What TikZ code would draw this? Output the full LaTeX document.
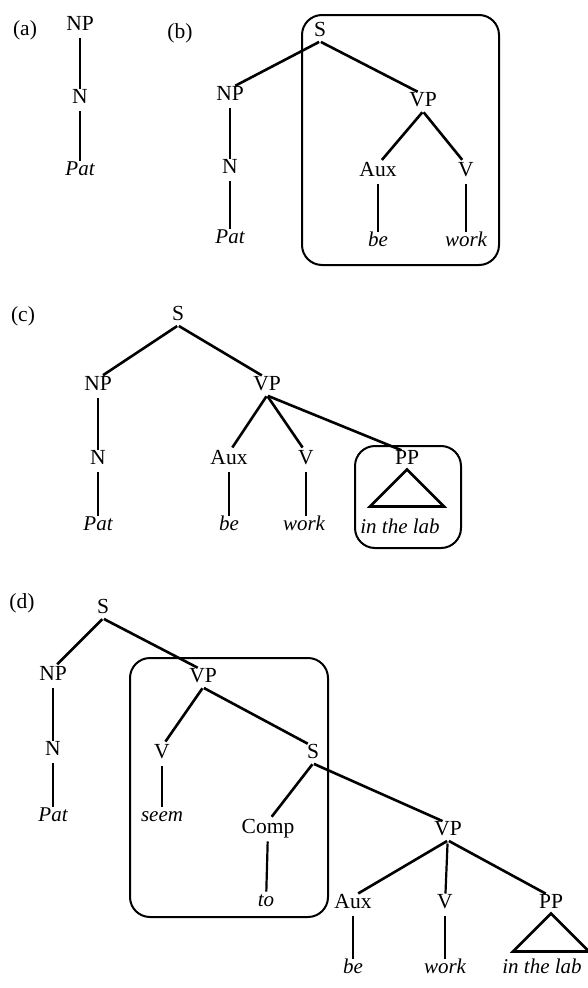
\documentclass[tikz,border=0pt]{standalone}
\usepackage{fontspec}
\setmainfont{Liberation Serif}

\begin{document}
\begin{tikzpicture}[
  x=1pt,y=-1pt,
  cat/.style={inner sep=4.5pt,text height=1.5ex,text depth=0.15ex},
  word/.style={cat,font=\fontsize{21}{24}\selectfont\itshape},
  branch/.style={line width=2.6pt,shorten <=1pt,shorten >=6pt},
  stem/.style={line width=2.2pt,shorten <=3pt,shorten >=3pt},
  frame/.style={line width=2pt,rounded corners=20pt},
  every node/.append style={font=\fontsize{21.5}{24}\selectfont}
]
  \useasboundingbox (0,0) rectangle (587,988);

  % (a)
  \node (la) at (25,30) {(a)};
  \node[cat] (a-np) at (80,27) {NP};
  \node[cat] (a-n) at (80,100) {N};
  \node[word] (a-pat) at (80,172) {Pat};
  \draw[stem] (a-np) -- (a-n);
  \draw[stem] (a-n) -- (a-pat);

  % (b)
  \node (lb) at (180,33) {(b)};
  \node[cat] (b-s) at (320,33) {S};
  \node[cat] (b-np) at (230,97) {NP};
  \node[cat] (b-n) at (230,170) {N};
  \node[word] (b-pat) at (230,240) {Pat};
  \node[cat] (b-vp) at (423,103) {VP};
  \node[cat] (b-aux) at (378,173) {Aux};
  \node[cat] (b-v) at (466,173) {V};
  \node[word] (b-be) at (378,243) {be};
  \node[word] (b-work) at (466,243) {work};
  \draw[branch] (b-s.south) -- (b-np.north);
  \draw[branch] (b-s.south) -- (b-vp.north);
  \draw[branch] (b-vp.south) -- (b-aux.north);
  \draw[branch] (b-vp.south) -- (b-v.north);
  \draw[stem] (b-np) -- (b-n);
  \draw[stem] (b-n) -- (b-pat);
  \draw[stem] (b-aux) -- (b-be);
  \draw[stem] (b-v) -- (b-work);
  \draw[frame] (302,15) rectangle (499,265);

  % (c)
  \node (lc) at (23,316) {(c)};
  \node[cat] (c-s) at (178,317) {S};
  \node[cat] (c-np) at (98,387) {NP};
  \node[cat] (c-n) at (98,461) {N};
  \node[word] (c-pat) at (98,527) {Pat};
  \node[cat] (c-vp) at (267,387) {VP};
  \node[cat] (c-aux) at (229,461) {Aux};
  \node[cat] (c-v) at (306,461) {V};
  \node[cat] (c-pp) at (407,461) {PP};
  \node[word] (c-be) at (229,527) {be};
  \node[word] (c-work) at (304,527) {work};
  \node[word] (c-lab) at (400,530) {in the lab};
  \draw[branch] (c-s.south) -- (c-np.north);
  \draw[branch] (c-s.south) -- (c-vp.north);
  \draw[branch] (c-vp.south) -- (c-aux.north);
  \draw[branch] (c-vp.south) -- (c-v.north);
  \draw[branch] (c-vp.south) -- (c-pp.north);
  \draw[stem] (c-np) -- (c-n);
  \draw[stem] (c-n) -- (c-pat);
  \draw[stem] (c-aux) -- (c-be);
  \draw[stem] (c-v) -- (c-v |- c-work.north);
  \draw[line width=2.6pt] (c-pp.south) -- ++(-37,37) -- ++(74,0) -- cycle;
  \draw[frame] (355,446) rectangle (461,548);

  % (d)
  \node (ld) at (22,603) {(d)};
  \node[cat] (d-s) at (103,610) {S};
  \node[cat] (d-np) at (53,677) {NP};
  \node[cat] (d-n) at (53,752) {N};
  \node[word] (d-pat) at (53,818) {Pat};
  \node[cat] (d-vp) at (203,679) {VP};
  \node[cat] (d-v) at (162,755) {V};
  \node[word] (d-seem) at (162,818) {seem};
  \node[cat] (d-s2) at (313,755) {S};
  \node[cat] (d-comp) at (268,830) {Comp};
  \node[word] (d-to) at (266,903) {to};
  \node[cat] (d-vp2) at (448,832) {VP};
  \node[cat] (d-aux) at (353,905) {Aux};
  \node[cat] (d-v2) at (445,905) {V};
  \node[cat] (d-pp) at (551,905) {PP};
  \node[word] (d-be) at (353,970) {be};
  \node[word] (d-work) at (445,970) {work};
  \node[word] (d-lab) at (542,970) {in the lab};
  \draw[branch] (d-s.south) -- (d-np.north);
  \draw[branch] (d-s.south) -- (d-vp.north);
  \draw[branch] (d-vp.south) -- (d-v.north);
  \draw[branch] (d-vp.south) -- (d-s2.north);
  \draw[branch] (d-s2.south) -- (d-comp.north);
  \draw[branch] (d-s2.south) -- (d-vp2.north);
  \draw[branch] (d-vp2.south) -- (d-aux.north);
  \draw[branch] (d-vp2.south) -- (d-pp.north);
  \draw[stem] (d-vp2) -- (d-v2);
  \draw[stem] (d-np) -- (d-n);
  \draw[stem] (d-n) -- (d-pat);
  \draw[stem] (d-v) -- (d-seem);
  \draw[stem] (d-comp) -- (d-to);
  \draw[stem] (d-aux) -- (d-be);
  \draw[stem] (d-v2) -- (d-work);
  \draw[line width=2.6pt] (d-pp.south) -- ++(-38,38) -- ++(76,0) -- cycle;
  \draw[frame] (130,658) rectangle (328,917);
\end{tikzpicture}
\end{document}
